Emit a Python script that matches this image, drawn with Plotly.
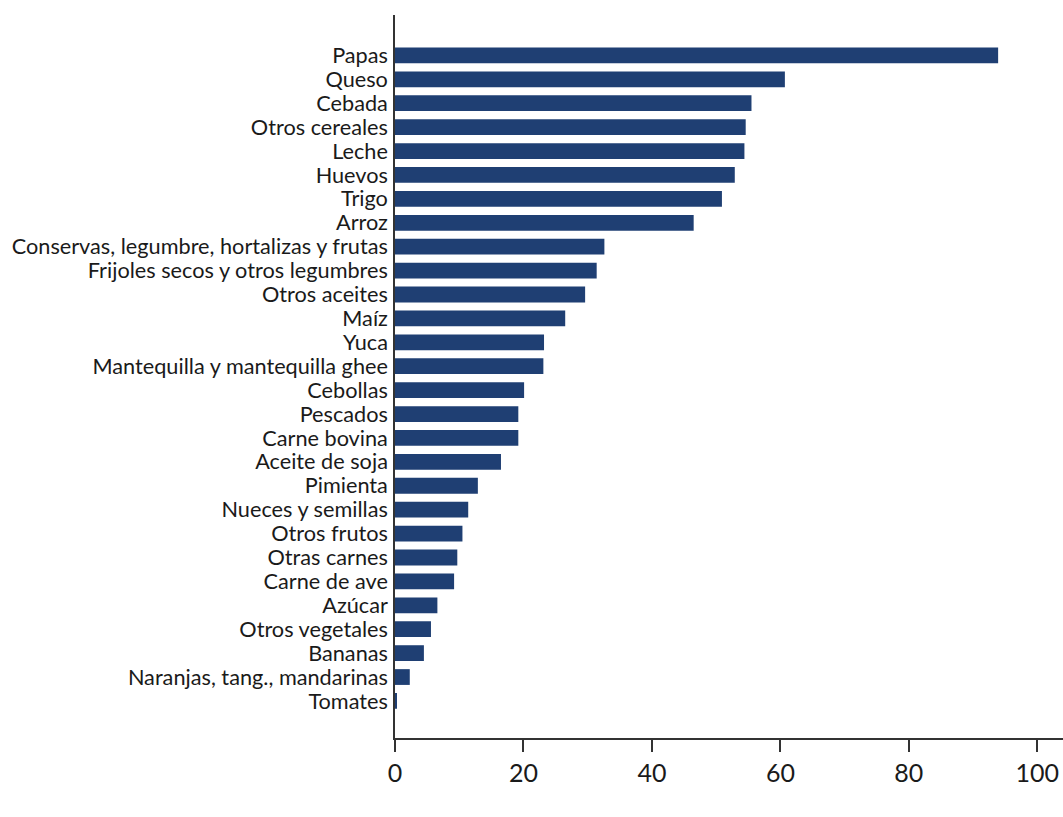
import plotly.graph_objects as go

categories = [
    "Papas", "Queso", "Cebada", "Otros cereales", "Leche", "Huevos", "Trigo", "Arroz",
    "Conservas, legumbre, hortalizas y frutas", "Frijoles secos y otros legumbres",
    "Otros aceites", "Maíz", "Yuca", "Mantequilla y mantequilla ghee", "Cebollas",
    "Pescados", "Carne bovina", "Aceite de soja", "Pimienta", "Nueces y semillas",
    "Otros frutos", "Otras carnes", "Carne de ave", "Azúcar", "Otros vegetales",
    "Bananas", "Naranjas, tang., mandarinas", "Tomates",
]
values = [
    93.9, 60.7, 55.5, 54.6, 54.4, 52.9, 50.9, 46.5,
    32.6, 31.4, 29.6, 26.5, 23.2, 23.1, 20.1,
    19.2, 19.2, 16.5, 12.9, 11.4,
    10.5, 9.7, 9.2, 6.6, 5.6,
    4.5, 2.3, 0.2,
]
x_ticks = [0, 20, 40, 60, 80, 100]

fig = go.Figure(
    go.Bar(
        x=values,
        y=categories,
        orientation="h",
        marker=dict(color="#1f3f73", line=dict(width=0)),
        width=0.66,
    )
)

fig.update_layout(
    width=1063,
    height=817,
    margin=dict(l=395, r=0, t=15, b=79),
    paper_bgcolor="white",
    plot_bgcolor="white",
    showlegend=False,
    font=dict(family="Lato, Open Sans, sans-serif", color="#1a1a1a"),
)

fig.update_xaxes(
    range=[0, 104.0],
    tickvals=x_ticks,
    ticktext=[str(v) for v in x_ticks],
    showgrid=False,
    zeroline=False,
    showline=True,
    linecolor="#333333",
    linewidth=1.5,
    ticks="outside",
    ticklen=12,
    tickwidth=1.5,
    tickcolor="#333333",
    tickfont=dict(size=25, color="#1a1a1a"),
)

fig.update_yaxes(
    type="category",
    categoryorder="array",
    categoryarray=categories,
    tickmode="array",
    tickvals=categories,
    ticktext=categories,
    range=[28.55, -1.69],
    showgrid=False,
    zeroline=False,
    showline=True,
    linecolor="#333333",
    linewidth=1.5,
    ticks="",
    ticklabelstandoff=1,
    tickfont=dict(size=21.7, color="#1a1a1a"),
)

fig.write_html(
    "out.html",
    config={"displayModeBar": False},
    post_script="document.body.style.margin='0';document.body.style.overflow='hidden';",
)
